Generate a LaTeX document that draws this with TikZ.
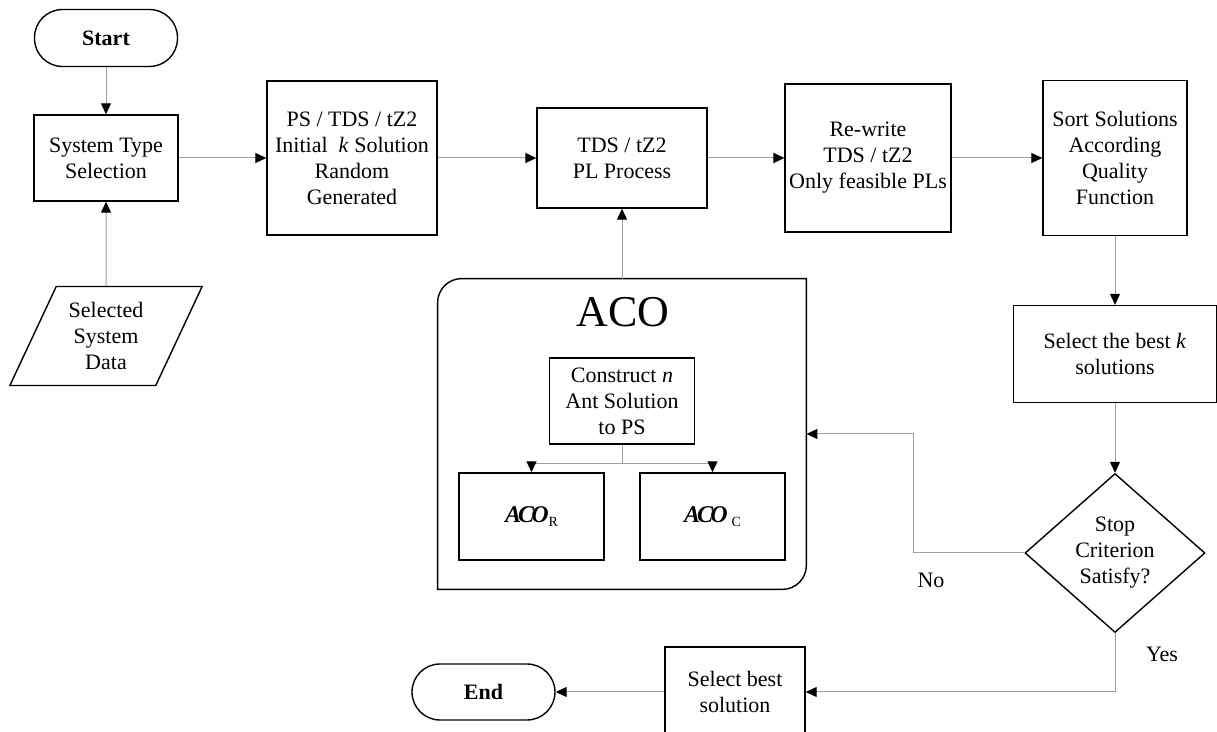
\documentclass[tikz,border=0pt]{standalone}
\usepackage{fontspec}
\setmainfont{Liberation Serif}
\usetikzlibrary{arrows.meta,shapes.geometric}

\begin{document}
\begin{tikzpicture}[x=0.5pt,y=-0.5pt,
    font=\fontsize{11}{13}\selectfont,
    box/.style={draw,line width=0.7pt,align=center,inner sep=2pt},
    term/.style={box,rounded corners=14pt,minimum width=71.5pt,minimum height=28.5pt,font=\fontsize{11}{13}\selectfont\bfseries},
    link/.style={draw=gray!75,line width=0.5pt,-{Triangle[length=5.5pt,width=5pt,color=black,fill=black]}},
    plain/.style={draw=gray!75,line width=0.5pt}]
    \useasboundingbox (0,0) rectangle (1217,732);

    % left column
    \node[term] (start) at (106,38) {Start};
    \node[box,minimum width=72pt,minimum height=43pt] (systype) at (106,158) {System Type\\Selection};
    \node[box,trapezium,trapezium left angle=63,trapezium right angle=117,trapezium stretches=true,
          minimum width=96.5pt,minimum height=49.5pt] (sysdata) at (106,336) {Selected\\System\\Data};

    % top row
    \node[box,minimum width=85pt,minimum height=77pt] (init) at (352,158) {PS / TDS / tZ2\\Initial~ \textit{k} Solution\\Random\\Generated};
    \node[box,minimum width=85pt,minimum height=50pt] (plproc) at (622,158) {TDS / tZ2\\PL Process};
    \node[box,minimum width=82pt,minimum height=74pt] (rewrite) at (868,158) {Re-write\\TDS / tZ2\\Only feasible PLs};
    \node[box,minimum width=72pt,minimum height=77.5pt] (sort) at (1115,158) {Sort Solutions\\According\\Quality\\Function};

    % right column
    \node[box,minimum width=101.5pt,minimum height=48.5pt] (selk) at (1115,354) {Select the best \textit{k}\\solutions};
    \node[box,diamond,inner sep=0pt,minimum width=90pt,minimum height=79.5pt] (stop) at (1115,553) {Stop\\Criterion\\Satisfy?};

    % bottom row
    \node[box,minimum width=70pt,minimum height=45pt] (selbest) at (735,692) {Select best\\solution};
    \node[term,minimum height=28pt] (finish) at (483.5,692) {End};

    % ACO block
    \node[minimum width=184pt,minimum height=155pt,inner sep=0pt] (aco) at (622,434) {};
    \draw[line width=0.7pt] (aco.south west) -- ([yshift=-12pt]aco.north west)
        arc[start angle=180,end angle=90,radius=12pt] -- (aco.north east)
        -- ([yshift=12pt]aco.south east) arc[start angle=0,end angle=-90,radius=12pt] -- cycle;
    \node[font=\fontsize{22}{26}\selectfont] (acotitle) at (623,312) {ACO};
    \node[box,minimum width=72.5pt,minimum height=43pt] (construct) at (622,401) {Construct \textit{n}\\Ant Solution\\to PS};
    \node[box,minimum width=72.5pt,minimum height=43.5pt,font=\fontsize{12}{14}\selectfont] (acor) at (531.5,516.5) {{\bfseries\itshape A\kern-0.12em C\kern-0.12em O}\raisebox{-0.3ex}{\scriptsize R}};
    \node[box,minimum width=72.5pt,minimum height=43.5pt,font=\fontsize{12}{14}\selectfont] (acoc) at (712.5,516.5) {{\bfseries\itshape A\kern-0.12em C\kern-0.12em O}\,\raisebox{-0.3ex}{\scriptsize C}};
    \coordinate (split) at (622,464);

    % labels
    \node (nolbl) at (931,580) {No};
    \node (yeslbl) at (1162,654) {Yes};

    % connectors
    \draw[link] (start) -- (systype);
    \draw[link] (sysdata) -- (systype);
    \draw[link] (systype) -- (init);
    \draw[link] (init) -- (plproc);
    \draw[link] (plproc) -- (rewrite);
    \draw[link] (rewrite) -- (sort);
    \draw[link] (sort) -- (selk);
    \draw[link] (selk) -- (stop);
    \draw[link] (aco.north) -- (plproc);
    \draw[plain] (construct) -- (split);
    \draw[link] (split) -| (acor.north);
    \draw[link] (split) -| (acoc.north);
    \draw[link] (stop.west) -- ++(-111,0) |- (aco.east);
    \draw[link] (stop.south) |- (selbest.east);
    \draw[link] (selbest) -- (finish);
\end{tikzpicture}
\end{document}
